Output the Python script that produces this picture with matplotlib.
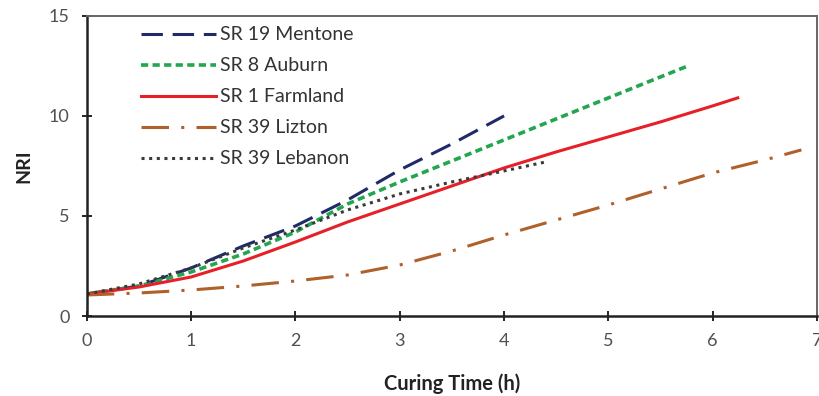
import matplotlib
matplotlib.use('Agg')
from matplotlib import pyplot as plt

plt.rcParams['font.family'] = ['Lato', 'DejaVu Sans']

# citanje vrijednosti sa slike
t_mentone = [0, 0.5, 1, 1.5, 2, 2.5, 3, 3.5, 4.0]
nri_mentone = [1.1, 1.5, 2.4, 3.5, 4.5, 5.8, 7.3, 8.6, 10.0]

t_auburn = [0, 0.5, 1, 1.5, 2, 2.5, 3, 3.5, 4, 4.5, 5, 5.5, 5.75]
nri_auburn = [1.1, 1.5, 2.2, 3.1, 4.2, 5.6, 6.7, 7.75, 8.8, 9.85, 10.9, 11.95, 12.47]

t_farmland = [0, 0.5, 1, 1.5, 2, 2.5, 3, 3.5, 4, 4.5, 5, 5.5, 6, 6.24]
nri_farmland = [1.1, 1.45, 1.95, 2.75, 3.7, 4.7, 5.6, 6.5, 7.4, 8.2, 8.95, 9.7, 10.5, 10.9]

t_lizton = [0, 0.5, 1, 1.5, 2, 2.5, 3, 3.5, 4, 4.5, 5, 5.5, 6, 6.5, 6.85]
nri_lizton = [1.05, 1.15, 1.3, 1.5, 1.75, 2.05, 2.55, 3.25, 4.05, 4.8, 5.55, 6.35, 7.15, 7.8, 8.3]

t_lebanon = [0, 0.5, 1, 1.5, 2, 2.5, 3, 3.5, 4, 4.4]
nri_lebanon = [1.1, 1.6, 2.4, 3.4, 4.3, 5.3, 6.1, 6.7, 7.25, 7.7]

fig = plt.figure(figsize=(8.19, 3.96), dpi=100)
ax = fig.add_axes([0.106, 0.202, 0.8916, 0.758])

ax.plot(t_mentone, nri_mentone, color='#1f2a66', lw=2.2, dashes=(7, 3.2), label='SR 19 Mentone')
ax.plot(t_auburn, nri_auburn, color='#22a64f', lw=2.6, dashes=(2.0, 1.2), label='SR 8 Auburn')
ax.plot(t_farmland, nri_farmland, color='#e62028', lw=2.2, label='SR 1 Farmland')
ax.plot(t_lizton, nri_lizton, color='#b0602a', lw=2.2, dashes=(9, 4, 1, 4), label='SR 39 Lizton')
ax.plot(t_lebanon, nri_lebanon, color='#3a3a3a', lw=2.2, dashes=(1, 1.5), label='SR 39 Lebanon')

ax.set_xlim(0, 7)
ax.set_ylim(0, 15)
ax.set_xticks(range(0, 8))
ax.set_yticks([0, 5, 10, 15])
ax.tick_params(direction='inout', length=7, width=1.2, labelsize=13, labelcolor='#505050')
ax.tick_params(axis='x', pad=9)
ax.tick_params(axis='y', pad=9)

for s in ['left', 'bottom']:
    ax.spines[s].set_linewidth(1.8)
    ax.spines[s].set_color('#222222')
for s in ['top', 'right']:
    ax.spines[s].set_linewidth(1.4)
    ax.spines[s].set_color('#666666')

ax.set_xlabel('Curing Time (h)', fontsize=14.5, fontweight='bold', color='#222222', labelpad=17)
ax.set_ylabel('NRI', fontsize=14, fontweight='bold', color='#222222', labelpad=12)

ax.legend(loc='upper left', bbox_to_anchor=(0.055, 1.01), frameon=False, fontsize=14,
          handlelength=3.9, handletextpad=0.2, labelspacing=0.72, borderaxespad=0.3,
          labelcolor='#333333')

plt.savefig('out.png', dpi=100)
